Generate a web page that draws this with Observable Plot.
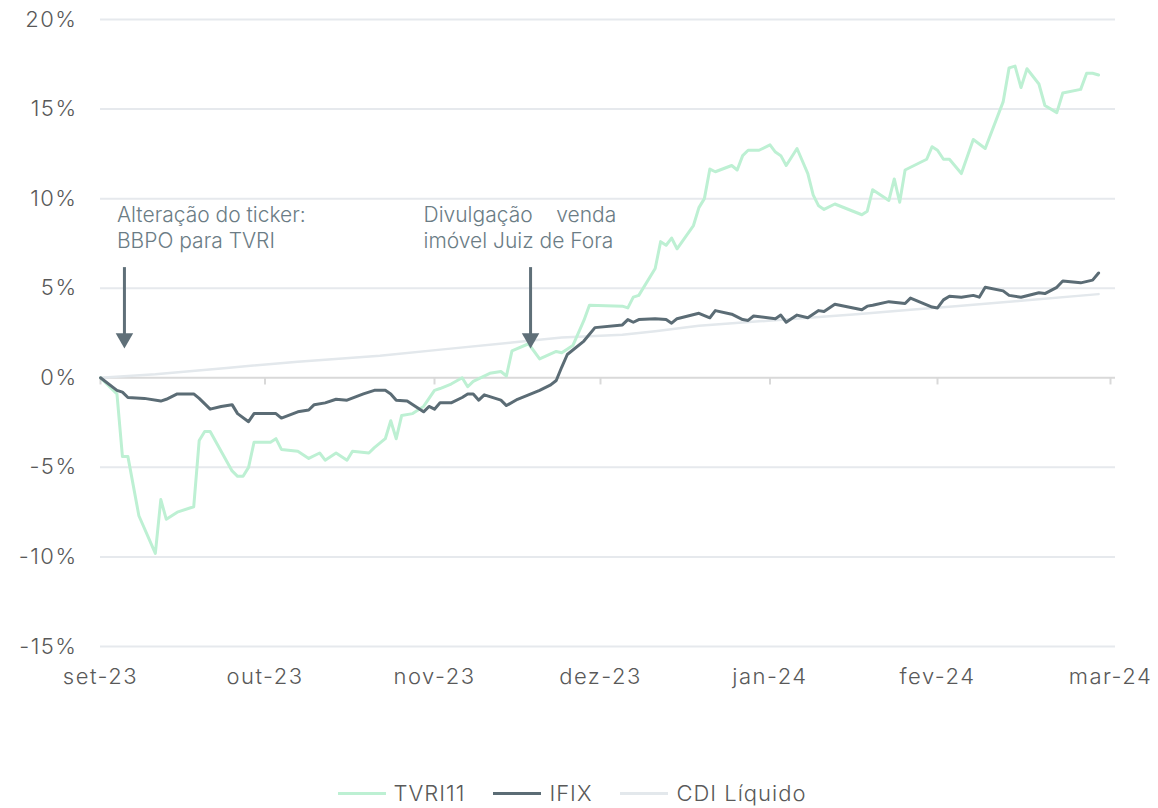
<!DOCTYPE html>
<html>
<head>
<meta charset="utf-8">
<script src="https://cdn.jsdelivr.net/npm/d3@7"></script>
<script src="https://cdn.jsdelivr.net/npm/@observablehq/plot@0.6"></script>
<style>
  body { margin: 0; background: #fff; font-family: Inter, "Noto Sans", sans-serif; font-weight: 300; }
  #legend { display: flex; justify-content: center; align-items: center; gap: 28px; margin-top: 38px; height: 30px; font-size: 22px; color: #595959; padding-right: 14px; letter-spacing: 1px; }
  .item { display: flex; align-items: center; gap: 8px; }
  .sw { width: 48px; height: 3px; }
  g[aria-label="y-axis tick label"] text, g[aria-label="x-axis tick label"] text { letter-spacing: 1.5px; }
</style>
</head>
<body>
<div id="chart"></div>
<div id="legend"></div>
<script>
// ---- Data (cumulative return, %) ----
const tvriDates = ["2023-09-01","2023-09-04","2023-09-05","2023-09-06","2023-09-08","2023-09-11","2023-09-12","2023-09-13","2023-09-15","2023-09-18","2023-09-19","2023-09-20","2023-09-21","2023-09-25","2023-09-26","2023-09-27","2023-09-28","2023-09-29","2023-10-02","2023-10-03","2023-10-04","2023-10-07","2023-10-09","2023-10-11","2023-10-12","2023-10-14","2023-10-16","2023-10-17","2023-10-20","2023-10-21","2023-10-23","2023-10-24","2023-10-25","2023-10-26","2023-10-28","2023-10-30","2023-11-01","2023-11-02","2023-11-04","2023-11-06","2023-11-07","2023-11-08","2023-11-11","2023-11-13","2023-11-14","2023-11-15","2023-11-18","2023-11-20","2023-11-23","2023-11-24","2023-11-26","2023-11-28","2023-11-29","2023-12-05","2023-12-06","2023-12-07","2023-12-08","2023-12-11","2023-12-12","2023-12-13","2023-12-14","2023-12-15","2023-12-18","2023-12-19","2023-12-20","2023-12-21","2023-12-22","2023-12-25","2023-12-26","2023-12-27","2023-12-28","2023-12-30","2024-01-01","2024-01-02","2024-01-03","2024-01-04","2024-01-06","2024-01-08","2024-01-09","2024-01-10","2024-01-11","2024-01-13","2024-01-18","2024-01-19","2024-01-20","2024-01-23","2024-01-24","2024-01-25","2024-01-26","2024-01-30","2024-01-31","2024-02-01","2024-02-02","2024-02-03","2024-02-05","2024-02-07","2024-02-09","2024-02-12","2024-02-13","2024-02-14","2024-02-15","2024-02-16","2024-02-18","2024-02-19","2024-02-21","2024-02-22","2024-02-25","2024-02-26","2024-02-27","2024-02-28"];
const tvriValues = [0,-0.9,-4.4,-4.4,-7.7,-9.8,-6.8,-7.9,-7.5,-7.2,-3.5,-3.0,-3.0,-5.2,-5.5,-5.5,-5.0,-3.6,-3.6,-3.4,-4.0,-4.1,-4.5,-4.2,-4.6,-4.2,-4.6,-4.1,-4.2,-3.9,-3.4,-2.4,-3.4,-2.1,-2.0,-1.6,-0.7,-0.6,-0.35,0.0,-0.5,-0.2,0.25,0.35,0.1,1.5,1.9,1.05,1.47,1.4,1.8,3.2,4.05,4.0,3.9,4.5,4.6,6.1,7.6,7.4,7.8,7.2,8.5,9.5,10.0,11.65,11.5,11.85,11.6,12.4,12.7,12.7,13.0,12.6,12.4,11.85,12.8,11.4,10.2,9.6,9.4,9.7,9.1,9.3,10.5,9.9,11.1,9.8,11.6,12.2,12.9,12.7,12.2,12.2,11.4,13.3,12.8,15.4,17.3,17.4,16.2,17.25,16.4,15.2,14.8,15.9,16.1,17.0,17.0,16.9];

const ifixDates = ["2023-09-01","2023-09-04","2023-09-05","2023-09-06","2023-09-09","2023-09-12","2023-09-13","2023-09-15","2023-09-18","2023-09-19","2023-09-21","2023-09-23","2023-09-25","2023-09-26","2023-09-28","2023-09-29","2023-10-03","2023-10-04","2023-10-07","2023-10-09","2023-10-10","2023-10-12","2023-10-14","2023-10-16","2023-10-19","2023-10-21","2023-10-23","2023-10-24","2023-10-25","2023-10-27","2023-10-30","2023-10-31","2023-11-01","2023-11-02","2023-11-04","2023-11-06","2023-11-07","2023-11-08","2023-11-09","2023-11-10","2023-11-13","2023-11-14","2023-11-16","2023-11-18","2023-11-20","2023-11-22","2023-11-23","2023-11-24","2023-11-25","2023-11-28","2023-11-30","2023-12-05","2023-12-06","2023-12-07","2023-12-08","2023-12-11","2023-12-13","2023-12-14","2023-12-15","2023-12-19","2023-12-21","2023-12-22","2023-12-25","2023-12-27","2023-12-28","2023-12-29","2024-01-02","2024-01-03","2024-01-04","2024-01-06","2024-01-08","2024-01-10","2024-01-11","2024-01-13","2024-01-18","2024-01-19","2024-01-20","2024-01-23","2024-01-26","2024-01-27","2024-01-31","2024-02-01","2024-02-02","2024-02-03","2024-02-05","2024-02-07","2024-02-08","2024-02-09","2024-02-12","2024-02-13","2024-02-15","2024-02-18","2024-02-19","2024-02-21","2024-02-22","2024-02-25","2024-02-27","2024-02-28"];
const ifixValues = [0,-0.7,-0.8,-1.1,-1.15,-1.3,-1.2,-0.9,-0.9,-1.15,-1.75,-1.6,-1.5,-2.0,-2.45,-2.0,-2.0,-2.25,-1.9,-1.8,-1.5,-1.4,-1.2,-1.25,-0.9,-0.7,-0.7,-0.9,-1.25,-1.3,-1.9,-1.6,-1.75,-1.4,-1.4,-1.1,-0.9,-0.9,-1.25,-0.95,-1.25,-1.55,-1.2,-0.95,-0.7,-0.4,-0.15,0.6,1.3,2.05,2.8,2.95,3.25,3.1,3.25,3.3,3.25,3.05,3.3,3.6,3.35,3.75,3.55,3.25,3.2,3.45,3.3,3.5,3.1,3.5,3.35,3.75,3.7,4.1,3.8,4.0,4.05,4.25,4.15,4.45,3.95,3.9,4.35,4.55,4.5,4.6,4.5,5.05,4.85,4.6,4.5,4.75,4.7,5.05,5.4,5.3,5.45,5.85];

const cdiDates = ["2023-09-01","2023-09-11","2023-09-24","2023-10-07","2023-10-22","2023-11-03","2023-11-15","2023-11-24","2023-12-05","2023-12-11","2023-12-19","2023-12-30","2024-01-05","2024-01-17","2024-01-27","2024-02-04","2024-02-15","2024-02-28"];
const cdiValues = [0,0.2,0.55,0.9,1.23,1.6,1.97,2.25,2.4,2.6,2.9,3.15,3.28,3.55,3.8,4.0,4.3,4.67];

const seriesNames = ["TVRI11", "IFIX", "CDI Líquido"];
const seriesColors = ["#bdf0d3", "#5b6c75", "#e3e8ec"];

const monthTicks = ["2023-09-01","2023-10-01","2023-11-01","2023-12-01","2024-01-01","2024-02-01","2024-03-01"];
const monthLabels = ["set-23","out-23","nov-23","dez-23","jan-24","fev-24","mar-24"];
const yTicks = [-15, -10, -5, 0, 5, 10, 15, 20];

const notes = [
  {date: "2023-09-04", value: 9.7, text: "Alteração do ticker:\nBBPO para TVRI", arrowDate: "2023-09-05"},
  {date: "2023-10-30", value: 9.7, text: "Divulgação\u00a0\u00a0\u00a0\u00a0venda\nimóvel Juiz de Fora", arrowDate: "2023-11-18"}
];
const arrowTop = 6.15, arrowHead = 2.2;

// ---- Build tables ----
const P = d => new Date(d);
const toRows = (dates, values) => dates.map((d, i) => ({date: P(d), value: values[i]}));
const tvri = toRows(tvriDates, tvriValues);
const ifix = toRows(ifixDates, ifixValues);
const cdi = toRows(cdiDates, cdiValues);
const ticks = monthTicks.map(P);
const labelOf = d => monthLabels[ticks.findIndex(t => +t === +d)];

const chart = Plot.plot({
  width: 1158,
  height: 740,
  marginLeft: 100,
  marginRight: 43,
  marginTop: 19,
  marginBottom: 94,
  style: {fontFamily: "Inter, 'Noto Sans', sans-serif", fontSize: "22px", color: "#595959", background: "#fff", fontWeight: 300},
  // month positions follow the reference's axis (piecewise time scale)
  x: {type: "utc", domain: ticks, range: [100, 264.5, 434, 600, 769.5, 937, 1110]},
  y: {domain: [-15, 20]},
  marks: [
    Plot.ruleY(yTicks.filter(d => d !== 0), {stroke: "#e6e9ed", strokeWidth: 2}),
    Plot.ruleY([0], {stroke: "#d9d9d9", strokeWidth: 2}),
    Plot.ruleX(ticks, {x: d => d, y1: 0, y2: -0.4, stroke: "#d9d9d9", strokeWidth: 2}),
    Plot.axisY({ticks: yTicks, tickSize: 0, tickPadding: 23, tickFormat: d => `${d}%`, label: null, fontSize: 22, fontVariant: "normal", fill: "#595959"}),
    Plot.axisX({ticks: ticks, tickSize: 0, tickPadding: 22, tickFormat: labelOf, label: null, fontSize: 22, fontVariant: "normal", fill: "#595959"}),
    Plot.line(cdi, {x: "date", y: "value", stroke: seriesColors[2], strokeWidth: 2.5}),
    Plot.line(tvri, {x: "date", y: "value", stroke: seriesColors[0], strokeWidth: 3}),
    Plot.line(ifix, {x: "date", y: "value", stroke: seriesColors[1], strokeWidth: 3}),
    Plot.ruleX(notes, {x: d => P(d.arrowDate), y1: arrowTop, y2: arrowHead, stroke: "#5f6f78", strokeWidth: 3, dx: 2}),
    Plot.dot(notes, {x: d => P(d.arrowDate), y: arrowHead, symbol: "triangle", rotate: 180, r: 6.5, fill: "#5f6f78", stroke: "none", dx: 2}),
    Plot.text(notes, {x: d => P(d.date), y: "value", text: "text", textAnchor: "start", lineAnchor: "top", lineHeight: 1.22, fontSize: 21, fill: "#6b7c85", fontVariant: "normal"})
  ]
});
document.getElementById("chart").append(chart);

const legend = document.getElementById("legend");
seriesNames.forEach((name, i) => {
  const item = document.createElement("div");
  item.className = "item";
  const sw = document.createElement("span");
  sw.className = "sw";
  sw.style.background = seriesColors[i];
  const lab = document.createElement("span");
  lab.textContent = name;
  item.append(sw, lab);
  legend.append(item);
});
</script>
</body>
</html>
